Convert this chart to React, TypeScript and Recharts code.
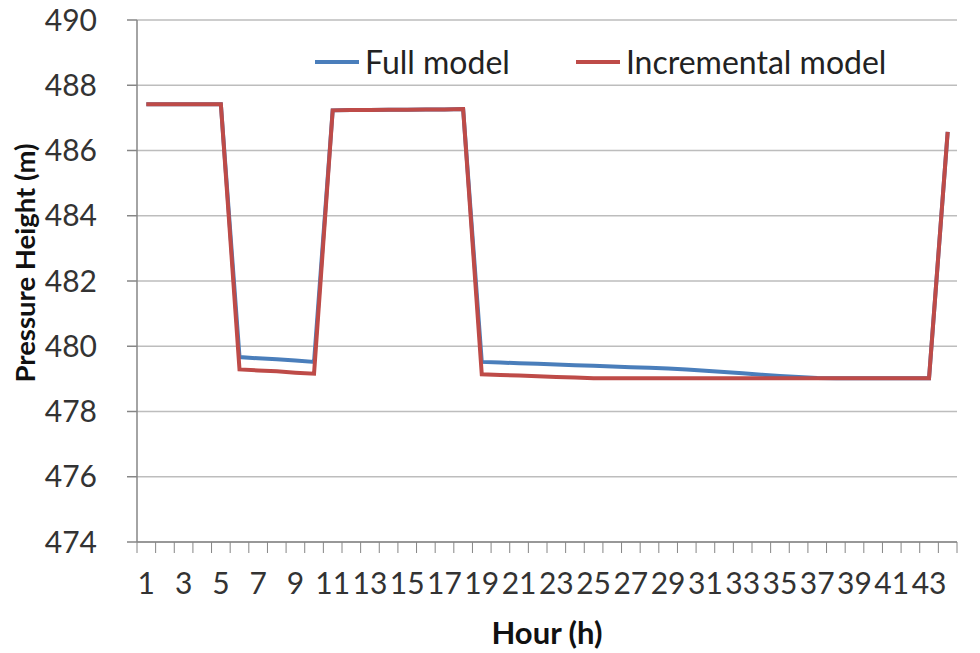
import React from 'react';
import { LineChart, Line, XAxis, YAxis, CartesianGrid, Label } from 'recharts';

const hours = [
  1, 2, 3, 4, 5, 6, 7, 8, 9, 10, 11, 12, 13, 14, 15, 16, 17, 18, 19, 20, 21, 22,
  23, 24, 25, 26, 27, 28, 29, 30, 31, 32, 33, 34, 35, 36, 37, 38, 39, 40, 41, 42, 43, 44,
];

const fullModel = [
  487.42, 487.42, 487.42, 487.42, 487.42,
  479.67, 479.63, 479.6, 479.56, 479.52,
  487.23, 487.24, 487.24, 487.25, 487.25, 487.26, 487.26, 487.27,
  479.52, 479.5, 479.48, 479.46, 479.44, 479.42, 479.4, 479.38, 479.36, 479.34, 479.32,
  479.29, 479.25, 479.21, 479.17, 479.13, 479.09, 479.06, 479.03, 479.02, 479.02, 479.02,
  479.02, 479.02, 479.02,
  486.57,
];

const incrementalModel = [
  487.42, 487.42, 487.42, 487.42, 487.42,
  479.29, 479.26, 479.23, 479.19, 479.16,
  487.23, 487.24, 487.24, 487.25, 487.25, 487.26, 487.26, 487.27,
  479.14, 479.12, 479.1, 479.08, 479.06, 479.04, 479.02, 479.02, 479.02, 479.02, 479.02,
  479.02, 479.02, 479.02, 479.02, 479.02, 479.02, 479.02, 479.02, 479.02, 479.02, 479.02,
  479.02, 479.02, 479.02,
  486.57,
];

const xLabelHours = [1, 3, 5, 7, 9, 11, 13, 15, 17, 19, 21, 23, 25, 27, 29, 31, 33, 35, 37, 39, 41, 43];
const yTicks = [474, 476, 478, 480, 482, 484, 486, 488, 490];

const SERIES = [
  { key: 'full', name: 'Full model', color: '#4a7ebb' },
  { key: 'incremental', name: 'Incremental model', color: '#be4b48' },
];

const data = hours.map((h, i) => ({ hour: h, full: fullModel[i], incremental: incrementalModel[i] }));

// Excel style: tick marks sit between categories, labels on every other category
const boundaryTicks = [0.5, ...hours.map((h) => h + 0.5)];
const xTicks = [...boundaryTicks, ...xLabelHours].sort((a, b) => a - b);

const FONT = 'Lato, "Open Sans", sans-serif';
const AXIS_GRAY = '#868686';

const XTick = ({ x, y, payload }: any) => {
  const v = payload.value;
  if (!Number.isInteger(v)) {
    return <line x1={x} x2={x} y1={y} y2={y + 11} stroke={AXIS_GRAY} strokeWidth={1} />;
  }
  return (
    <text x={x} y={y + 52} textAnchor="middle" fontSize={30} fill="#333" fontFamily={FONT}>
      {v}
    </text>
  );
};

// legend drawn outside recharts so it doesn't eat plot space
const ChartLegend = () => (
  <div
    style={{
      position: 'absolute',
      top: 43,
      left: 315,
      display: 'flex',
      alignItems: 'center',
      fontFamily: FONT,
      fontSize: 32,
      lineHeight: '38px',
      color: '#222',
    }}
  >
    {SERIES.map((s, i) => (
      <div key={s.key} style={{ display: 'flex', alignItems: 'center', marginRight: i === 0 ? 66 : 0 }}>
        <span style={{ display: 'inline-block', width: 44, height: 4, background: s.color, marginRight: 6 }} />
        <span>{s.name}</span>
      </div>
    ))}
  </div>
);

const App: React.FC = () => {
  return (
    <div style={{ position: 'relative', width: 980, height: 653, background: '#fff' }}>
      <style>{'body { margin: 0; }'}</style>
      <LineChart width={980} height={653} data={data} margin={{ top: 20, right: 23, left: 0, bottom: 0 }}>
        <CartesianGrid horizontal={true} vertical={false} stroke="#bdbdbd" strokeWidth={1.5} />
        <XAxis
          dataKey="hour"
          type="number"
          domain={[0.5, 44.5]}
          ticks={xTicks}
          interval={0}
          tickLine={false}
          tickSize={0}
          tickMargin={0}
          tick={<XTick />}
          height={111}
          stroke={AXIS_GRAY}
          strokeWidth={1.5}
        >
          <Label
            content={({ viewBox }: any) => (
              <text
                x={viewBox.x + viewBox.width / 2}
                y={viewBox.y + 102}
                textAnchor="middle"
                fontSize={31}
                fontWeight="bold"
                fill="#111"
                fontFamily={FONT}
              >
                Hour (h)
              </text>
            )}
          />
        </XAxis>
        <YAxis
          type="number"
          domain={[474, 490]}
          ticks={yTicks}
          interval={0}
          width={137}
          tickSize={10}
          tickMargin={30}
          tick={{ fontSize: 30, fill: '#333', fontFamily: FONT }}
          stroke={AXIS_GRAY}
          strokeWidth={1.5}
        >
          <Label
            content={({ viewBox }: any) => (
              <text
                transform={`translate(35, ${viewBox.y + viewBox.height / 2 - 18}) rotate(-90)`}
                textAnchor="middle"
                fontSize={27.5}
                fontWeight="bold"
                fill="#111"
                fontFamily={FONT}
              >
                Pressure Height (m)
              </text>
            )}
          />
        </YAxis>
        {SERIES.map((s) => (
          <Line
            key={s.key}
            type="linear"
            dataKey={s.key}
            name={s.name}
            stroke={s.color}
            strokeWidth={4}
            dot={false}
            isAnimationActive={false}
          />
        ))}
      </LineChart>
      <ChartLegend />
    </div>
  );
};

export default App;
